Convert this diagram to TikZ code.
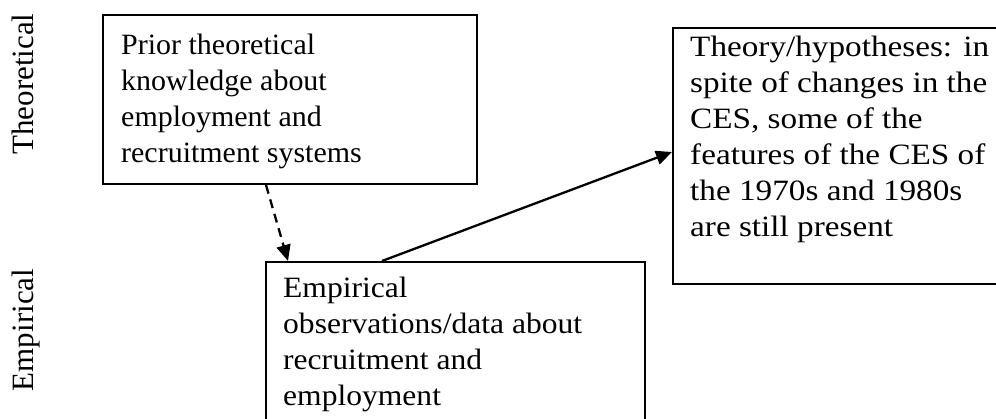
\documentclass[tikz,border=0pt]{standalone}
\usepackage{fontspec}
\usepackage{graphicx}
\setmainfont{Liberation Serif}
\usetikzlibrary{arrows.meta}
% a left-aligned block of lines, widened by the factor #1
\newcommand\widetext[2]{\scalebox{#1}[1]{\begin{tabular}{@{}l@{}}#2\end{tabular}}}
\begin{document}
\begin{tikzpicture}[x=1pt,y=-1pt,
  frame/.style={draw, line width=2pt, inner sep=0pt, anchor=north west},
  label/.style={inner sep=0pt, anchor=north west,
    font=\fontsize{29.5}{36}\selectfont},
  side/.style={inner sep=0pt, rotate=90, anchor=base,
    font=\fontsize{31}{36}\selectfont},
  link/.style={line width=2.3pt, -{Triangle[length=16pt,width=14pt]}}]
  \useasboundingbox (0,0) rectangle (996,419);

  % level labels
  \node[side] (lt) at (33,84) {Theoretical};
  \node[side] (le) at (33,330) {Empirical};

  % boxes
  \node[frame, minimum width=374pt, minimum height=169pt] (b1) at (102,14) {};
  \node[frame, minimum width=379pt, minimum height=185pt] (b2) at (265,261) {};
  \node[frame, minimum width=360pt, minimum height=256pt] (b3) at (672,27) {};

  % box texts
  \node[label] (t1) at (121,29) {\widetext{1.016}{Prior theoretical\\knowledge about\\employment and\\recruitment systems}};
  \node[label] (t2) at (283,272) {\widetext{1.07}{Empirical\\observations/data about\\recruitment and\\employment}};
  \node[label] (t3) at (690,31) {\widetext{1.126}{Theory/hypotheses: in\\spite of changes in the\\CES, some of the\\features of the CES of\\the 1970s and 1980s\\are still present}};

  % connectors
  \draw[link, dash pattern=on 9pt off 6pt] ([xshift=164pt]b1.south west) -- ([xshift=23pt]b2.north west);
  \draw[link] ([xshift=117pt]b2.north west) -- ([yshift=-125pt]b3.north west);
\end{tikzpicture}
\end{document}
